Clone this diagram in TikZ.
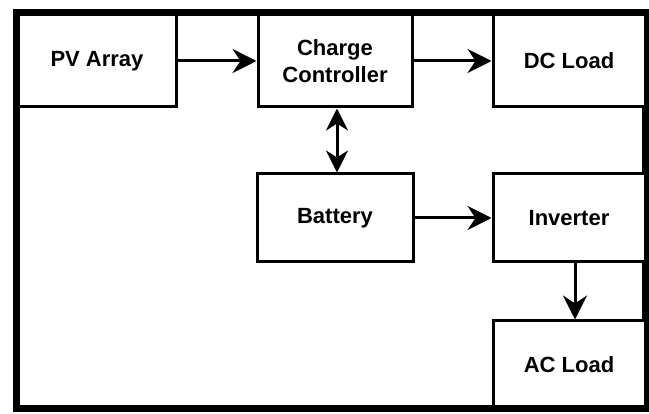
\documentclass[tikz,border=0pt]{standalone}
\usepackage{fontspec}
\setmainfont{Liberation Sans}
\usetikzlibrary{arrows.meta}
\begin{document}
\begin{tikzpicture}[x=1pt,y=-1pt,
  blk/.style={draw=black, line width=3pt, fill=white, minimum width=154pt, minimum height=90pt,
    inner sep=0pt, align=center, font=\fontsize{22}{27}\selectfont\bfseries},
  conn/.style={line width=3pt, -{Stealth[length=24pt,width=24pt,inset=8pt]}},
  bconn/.style={line width=3pt, {Stealth[length=22pt,width=22pt,inset=7pt]}-{Stealth[length=22pt,width=22pt,inset=7pt]}}]
\useasboundingbox (0,0) rectangle (649,414);
\fill[white] (0,0) rectangle (649,414);
\draw[line width=7pt] (16,13) rectangle (645,409);
\node[blk, minimum width=158pt, minimum height=92pt] (pv) at (97,61) {PV Array};
\node[blk, minimum height=92pt] (cc) at (335,61) {\raisebox{0pt}{Charge}\\Controller};
\node[blk, minimum width=152pt, minimum height=92pt] (dc) at (569,61) {DC Load};
\node[blk, minimum width=156pt, minimum height=88pt] (bat) at (335,218) {Battery};
\node[blk, minimum width=152pt, minimum height=88pt] (inv) at (569,218) {Inverter};
\node[blk, minimum width=152pt, minimum height=88pt] (ac) at (569,365) {AC Load};
\draw[conn] (pv.east) -- (cc.west);
\draw[conn] (cc.east) -- (dc.west);
\draw[bconn] ([xshift=2pt]cc.south) -- ([xshift=2pt]bat.north);
\draw[conn] (bat.east) -- (inv.west);
\draw[conn] ([xshift=6pt]inv.south) -- ([xshift=6pt]ac.north);
\draw[line width=7pt] (16,13) -- (16,409) -- (645,409);
\draw[line width=7pt] (16,13) -- (645,13);
\end{tikzpicture}
\end{document}
